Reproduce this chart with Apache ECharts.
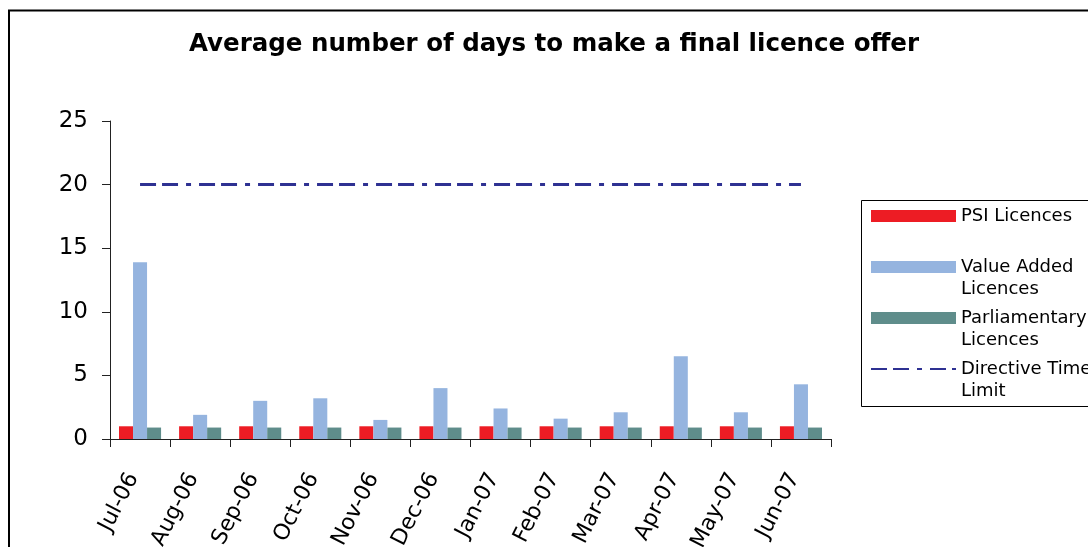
<!DOCTYPE html>
<html>
<head>
<meta charset="utf-8">
<style>
  html, body { margin: 0; padding: 0; background: #fff; }
  #main { width: 1088px; height: 547px; }
</style>
<script src="https://cdn.jsdelivr.net/npm/echarts@6/dist/echarts.min.js"></script>
</head>
<body>
<div id="main"></div>
<script>
const months = ["Jul-06", "Aug-06", "Sep-06", "Oct-06", "Nov-06", "Dec-06",
  "Jan-07", "Feb-07", "Mar-07", "Apr-07", "May-07", "Jun-07"];
const psiLicences = [1, 1, 1, 1, 1, 1, 1, 1, 1, 1, 1, 1];
const valueAdded = [13.9, 1.9, 3.0, 3.2, 1.5, 4.0, 2.4, 1.6, 2.1, 6.5, 2.1, 4.3];
const parliamentary = [0.9, 0.9, 0.9, 0.9, 0.9, 0.9, 0.9, 0.9, 0.9, 0.9, 0.9, 0.9];
const directiveLimit = [20, 20, 20, 20, 20, 20, 20, 20, 20, 20, 20, 20];

const font = "DejaVu Sans";
const chart = echarts.init(document.getElementById("main"));

// legend labels: extra blank line so the icon sits on the first text line
const legendText = {
  "PSI Licences": "\nPSI Licences\n",
  "Value Added Licences": "\nValue Added\nLicences",
  "Parliamentary Licences": "\nParliamentary\nLicences",
  "Directive Time Limit": "\nDirective Time\nLimit",
};

const option = {
  animation: false,
  backgroundColor: "#fff",
  textStyle: { fontFamily: font },
  title: {
    text: "Average number of days to make a final licence offer",
    left: 189,
    top: 32,
    padding: 0,
    textStyle: { fontFamily: font, fontSize: 24.5, fontWeight: "bold", color: "#000" },
  },
  graphic: [
    {
      type: "rect",
      shape: { x: 9, y: 10.5, width: 1200, height: 600 },
      style: { fill: null, stroke: "#000", lineWidth: 2 },
      silent: true,
    },
    {
      type: "rect",
      shape: { x: 861.5, y: 200.5, width: 400, height: 206 },
      style: { fill: null, stroke: "#000", lineWidth: 1 },
      silent: true,
    },
  ],
  legend: {
    orient: "vertical",
    left: 870,
    top: 183,
    padding: 0,
    itemGap: -15,
    itemWidth: 85,
    itemHeight: 12,
    formatter: (name) => legendText[name],
    textStyle: { fontFamily: font, fontSize: 18, lineHeight: 22, color: "#000" },
    data: [
      { name: "PSI Licences", icon: "rect" },
      { name: "Value Added Licences", icon: "rect" },
      { name: "Parliamentary Licences", icon: "rect" },
      {
        name: "Directive Time Limit",
        itemStyle: { color: "rgba(0,0,0,0)", borderColor: "rgba(0,0,0,0)", borderWidth: 0 },
      },
    ],
  },
  grid: { left: 110, right: 257, top: 121, bottom: 108, containLabel: false, outerBoundsMode: "none" },
  xAxis: {
    type: "category",
    data: months,
    axisLine: { lineStyle: { color: "#222", width: 1 } },
    axisTick: { show: true, length: 8, interval: 0, lineStyle: { color: "#222" } },
    axisLabel: {
      interval: 0, rotate: 63, margin: 22, padding: [0, 15, 0, 0],
      fontSize: 22, color: "#000", fontFamily: font,
    },
    splitLine: { show: false },
  },
  yAxis: {
    type: "value",
    min: 0,
    max: 25,
    interval: 5,
    axisLine: { show: true, lineStyle: { color: "#222", width: 1 } },
    axisTick: { show: true, length: 8, lineStyle: { color: "#222" } },
    axisLabel: { margin: 22, fontSize: 23, color: "#000", fontFamily: font },
    splitLine: { show: false },
  },
  series: [
    {
      name: "PSI Licences",
      type: "bar",
      data: psiLicences,
      barGap: "0%",
      barCategoryGap: "30%",
      itemStyle: { color: "#ED1C24" },
    },
    {
      name: "Value Added Licences",
      type: "bar",
      data: valueAdded,
      itemStyle: { color: "#95B4DF" },
    },
    {
      name: "Parliamentary Licences",
      type: "bar",
      data: parliamentary,
      itemStyle: { color: "#5F8D8B" },
    },
    {
      name: "Directive Time Limit",
      type: "line",
      data: directiveLimit,
      symbol: "none",
      lineStyle: { color: "#2E3192", width: 3, type: [16, 6, 16, 8, 5, 8] },
      itemStyle: { color: "#2E3192" },
    },
  ],
};

chart.setOption(option);
</script>
</body>
</html>
